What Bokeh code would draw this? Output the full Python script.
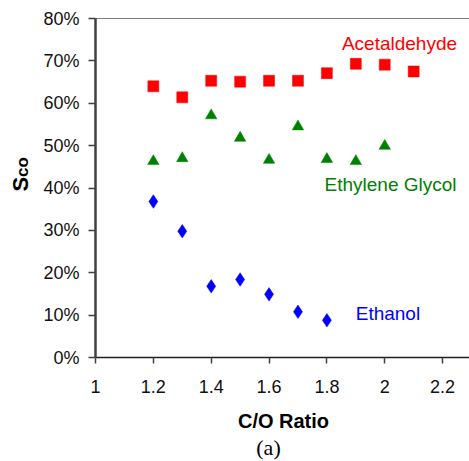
import math
from bokeh.plotting import figure
from bokeh.layouts import row, column
from bokeh.models import (Range1d, FixedTicker, NumeralTickFormatter, Label, Span)
from bokeh.core.properties import value
from bokeh.embed import file_html
from bokeh.resources import INLINE

# ---- data ----
x_acetaldehyde = [1.2, 1.3, 1.4, 1.5, 1.6, 1.7, 1.8, 1.9, 2.0, 2.1]
acetaldehyde = [0.640, 0.614, 0.653, 0.651, 0.653, 0.653, 0.671, 0.693, 0.691, 0.675]

x_glycol = [1.2, 1.3, 1.4, 1.5, 1.6, 1.7, 1.8, 1.9, 2.0]
glycol = [0.463, 0.470, 0.571, 0.518, 0.466, 0.545, 0.468, 0.463, 0.499]

x_ethanol = [1.2, 1.3, 1.4, 1.5, 1.6, 1.7, 1.8]
ethanol = [0.368, 0.298, 0.168, 0.184, 0.149, 0.108, 0.088]

x_ticks = [1.0, 1.2, 1.4, 1.6, 1.8, 2.0, 2.2]
y_ticks = [0.0, 0.1, 0.2, 0.3, 0.4, 0.5, 0.6, 0.7, 0.8]

FONT = "Liberation Sans"
TOP_H = 400   # height of the chart row; the captions sit in a strip below


def blank(fig):
    fig.axis.visible = False
    fig.grid.visible = False
    fig.outline_line_color = None
    fig.background_fill_color = "white"
    fig.border_fill_color = "white"


# ---- narrow left panel holding the rotated y title "Sco" ----
side = figure(width=40, height=TOP_H, output_backend="svg", toolbar_location=None,
              x_range=Range1d(0, 40), y_range=Range1d(0, TOP_H), min_border=0)
blank(side)
side.text(x=[20], y=[TOP_H - 204], text=["S"], angle=math.pi / 2, text_align="left",
          text_baseline="alphabetic", text_font=value(FONT),
          text_font_size="22px", text_font_style="bold", text_color="black")
side.text(x=[22], y=[TOP_H - 187], text=["co"], angle=math.pi / 2, text_align="left",
          text_baseline="alphabetic", text_font=value(FONT),
          text_font_size="17px", text_font_style="bold", text_color="black")

# ---- main chart ----
p = figure(width=429, height=TOP_H, output_backend="svg", toolbar_location=None,
           x_range=Range1d(1.0, 2.293), y_range=Range1d(0.0, 0.8),
           min_border_left=55, min_border_right=0, min_border_top=18,
           min_border_bottom=TOP_H - 357)
p.background_fill_color = "white"
p.border_fill_color = "white"
p.outline_line_color = None
p.xgrid.visible = False
p.ygrid.visible = False

p.xaxis.ticker = FixedTicker(ticks=x_ticks)
p.xaxis.formatter = NumeralTickFormatter(format="0.[0]")
p.yaxis.ticker = FixedTicker(ticks=y_ticks)
p.yaxis.formatter = NumeralTickFormatter(format="0%")
for ax in (p.xaxis, p.yaxis):
    ax.minor_tick_line_color = None
    ax.major_tick_in = 0
    ax.major_label_text_font = FONT
    ax.major_label_text_font_size = "18px"
    ax.major_label_text_color = "#111111"
    ax.major_tick_line_color = "#404040"
    ax.major_tick_line_width = 1.5
p.xaxis.major_tick_out = 6
p.xaxis.major_label_standoff = 16
p.xaxis.axis_line_color = "#202020"
p.xaxis.axis_line_width = 1.5
p.yaxis.major_tick_out = 7
p.yaxis.major_label_standoff = 9
p.yaxis.axis_line_color = "#404040"
p.yaxis.axis_line_width = 2.5

# top border line
p.add_layout(Span(location=0.8, dimension="width", line_color="black", line_width=1.2))

# markers
p.scatter(x_acetaldehyde, acetaldehyde, marker="square", size=11,
          fill_color="#FF0000", line_color="#FF0000", line_width=0.5)
p.scatter(x_glycol, glycol, marker="triangle", size=11.5,
          fill_color="#008000", line_color="#008000", line_width=0.5)
p.scatter(x_ethanol, ethanol, marker="diamond", size=13.5,
          fill_color="#0000FF", line_color="#0000FF", line_width=0.5)

# series labels
p.add_layout(Label(x=2.051, y=0.742, text="Acetaldehyde", text_align="center",
                   text_baseline="alphabetic", text_font=FONT,
                   text_font_size="19px", text_color="#FF0000"))
p.add_layout(Label(x=2.020, y=0.408, text="Ethylene Glycol", text_align="center",
                   text_baseline="alphabetic", text_font=FONT,
                   text_font_size="19px", text_color="#008000"))
p.add_layout(Label(x=2.011, y=0.1035, text="Ethanol", text_align="center",
                   text_baseline="alphabetic", text_font=FONT,
                   text_font_size="19px", text_color="#0000FF"))

# ---- caption strip below: "C/O Ratio" and "(a)" ----
BOT_H = 461 - TOP_H
bottom = figure(width=469, height=BOT_H, output_backend="svg", toolbar_location=None,
                x_range=Range1d(0, 469), y_range=Range1d(0, BOT_H), min_border=0)
blank(bottom)
bottom.text(x=[283], y=[40.5], text=["C/O Ratio"], text_align="center",
            text_baseline="alphabetic", text_font=value(FONT),
            text_font_size="20px", text_font_style="bold", text_color="black")
bottom.text(x=[268], y=[14], text=["(a)"], text_align="center",
            text_baseline="alphabetic", text_font=value("Liberation Serif"),
            text_font_size="22px", text_color="black")

layout = column(row(side, p, spacing=0), bottom, spacing=0)
open("out.html", "w").write(file_html(layout, INLINE))
